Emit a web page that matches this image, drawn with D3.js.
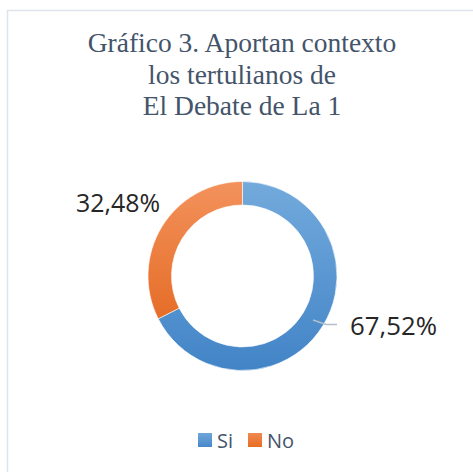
<!DOCTYPE html>
<html>
<head>
<meta charset="utf-8">
<script src="https://cdn.jsdelivr.net/npm/d3@7/dist/d3.min.js"></script>
<style>
  html, body { margin: 0; padding: 0; background: #fff; }
  svg { display: block; }
</style>
</head>
<body>
<div id="chart"></div>
<script>
// Gráfico 3 — donut, Si / No
var categories = ['Si', 'No'];
var values = [67.52, 32.48];
var labels = ['67,52%', '32,48%'];
var titleLines = ['Gráfico 3. Aportan contexto', 'los tertulianos de', 'El Debate de La 1'];

var W = 473, H = 472;
var cx = 242.5, cy = 276, rOut = 94.5, rIn = 71;

var svg = d3.select('#chart').append('svg')
  .attr('width', W).attr('height', H);

// gradients for the ring are in the ring group's (centred) coords
svg.append('defs').html(
  '<linearGradient id="g-si" gradientUnits="userSpaceOnUse" x1="0" y1="' + (-rOut) + '" x2="0" y2="' + rOut + '">' +
    '<stop offset="0" stop-color="#73aadc"/><stop offset="1" stop-color="#4284c7"/>' +
  '</linearGradient>' +
  '<linearGradient id="g-no" gradientUnits="userSpaceOnUse" x1="0" y1="' + (-rOut) + '" x2="0" y2="' + rOut + '">' +
    '<stop offset="0" stop-color="#f3925c"/><stop offset="1" stop-color="#e05f14"/>' +
  '</linearGradient>' +
  '<linearGradient id="l-si" x1="0" y1="0" x2="0" y2="1">' +
    '<stop offset="0" stop-color="#6fa6da"/><stop offset="1" stop-color="#4788ca"/>' +
  '</linearGradient>' +
  '<linearGradient id="l-no" x1="0" y1="0" x2="0" y2="1">' +
    '<stop offset="0" stop-color="#f08a52"/><stop offset="1" stop-color="#e86d22"/>' +
  '</linearGradient>'
);

// chart frame
svg.append('path')
  .attr('d', 'M' + (W + 2) + ',10.5 H7.5 V' + (H + 2))
  .attr('fill', 'none').attr('stroke', '#dfe4ec').attr('stroke-width', 1.5);

// title
svg.append('g').selectAll('text').data(titleLines).join('text')
  .attr('x', 242).attr('y', function (d, i) { return 52 + i * 31.5; })
  .attr('text-anchor', 'middle')
  .attr('font-family', '"Liberation Serif", "Times New Roman", serif')
  .attr('font-size', 27.5).attr('fill', '#44546a')
  .text(function (d) { return d; });

var fills = { Si: 'url(#g-si)', No: 'url(#g-no)' };
var legendFills = { Si: 'url(#l-si)', No: 'url(#l-no)' };

var data = categories.map(function (c, i) { return { cat: c, v: values[i], label: labels[i] }; });
var pie = d3.pie().sort(null).value(function (d) { return d.v; });
var arc = d3.arc().innerRadius(rIn).outerRadius(rOut);
var arcs = pie(data);

var g = svg.append('g').attr('transform', 'translate(' + cx + ',' + cy + ')');
g.selectAll('path').data(arcs).join('path')
  .attr('d', arc)
  .attr('fill', function (d) { return fills[d.data.cat]; })
  .attr('stroke', '#fff').attr('stroke-width', 0.6);

// leader line for Si label
g.append('path')
  .attr('d', 'M' + (313 - cx) + ',' + (320 - cy) + ' L' + (326 - cx) + ',' + (324.5 - cy) + ' H' + (337 - cx))
  .attr('fill', 'none').attr('stroke', '#b4bfcc').attr('stroke-width', 1.5);

var labelFont = '"Open Sans", "Noto Sans", sans-serif';
svg.append('text').attr('x', 350).attr('y', 335)
  .attr('font-family', labelFont).attr('font-size', 25).attr('fill', '#262626')
  .attr('textLength', 87).attr('lengthAdjust', 'spacingAndGlyphs')
  .text(arcs[0].data.label);
svg.append('text').attr('x', 76).attr('y', 212)
  .attr('font-family', labelFont).attr('font-size', 25).attr('fill', '#262626')
  .attr('textLength', 84).attr('lengthAdjust', 'spacingAndGlyphs')
  .text(arcs[1].data.label);

// legend
var lx = [198, 248];
var lg = svg.append('g').selectAll('g').data(categories).join('g')
  .attr('transform', function (d, i) { return 'translate(' + lx[i] + ',433)'; });
lg.append('rect').attr('width', 14).attr('height', 14)
  .attr('fill', function (d) { return legendFills[d]; });
lg.append('text').attr('x', 19).attr('y', 14.5)
  .attr('font-family', labelFont).attr('font-size', 20).attr('fill', '#44546a')
  .text(function (d) { return d; });
</script>
</body>
</html>
